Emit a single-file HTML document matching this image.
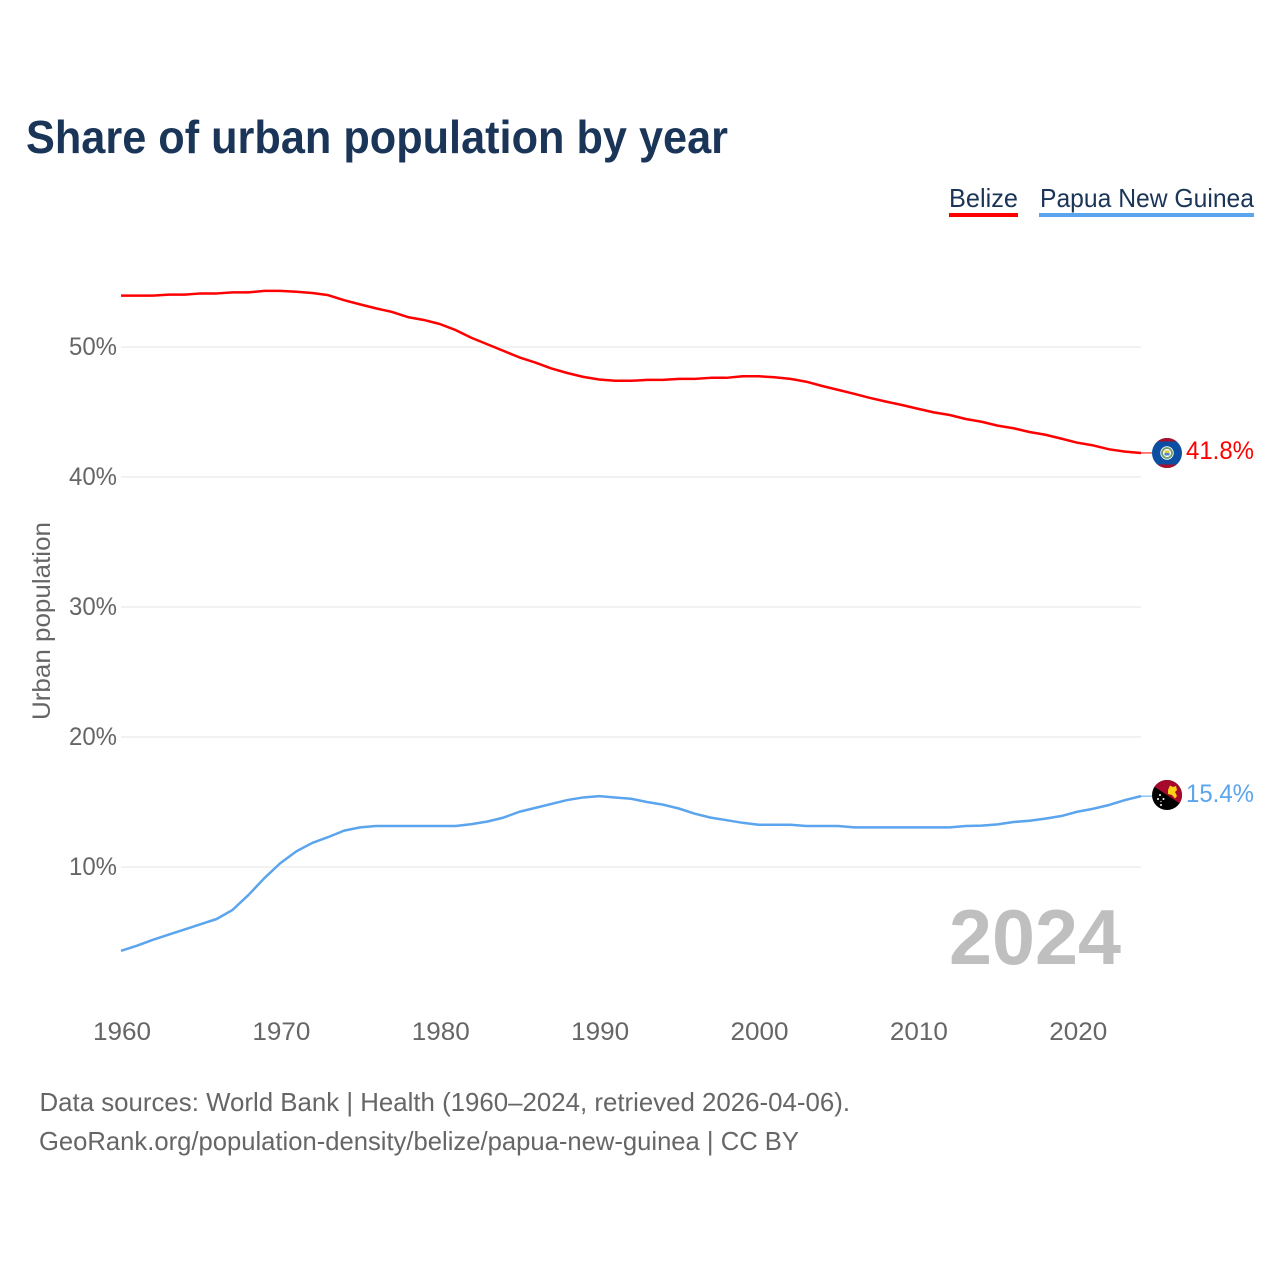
<!DOCTYPE html>
<html lang="en">
<head>
<meta charset="utf-8">
<title>Share of urban population by year</title>
<style>
html,body{margin:0;padding:0;background:#fff;width:1280px;height:1280px;overflow:hidden}
svg{display:block}
text{font-family:"Liberation Sans",sans-serif}
</style>
</head>
<body>
<svg id="chart" xmlns="http://www.w3.org/2000/svg" width="1280" height="1280" viewBox="0 0 1280 1280">
  <defs>
    <clipPath id="flag-clip-belize"><circle cx="1167" cy="453" r="15"/></clipPath>
    <clipPath id="flag-clip-png"><circle cx="1167" cy="795" r="15"/></clipPath>
  </defs>
  <rect width="1280" height="1280" fill="#ffffff"/>
  <text x="26" y="153" font-size="46" font-weight="700" fill="#1a3557" textLength="702" lengthAdjust="spacingAndGlyphs">Share of urban population by year</text>

  <g>
    <text x="949" y="207" font-size="26" fill="#1a3557" textLength="69" lengthAdjust="spacingAndGlyphs">Belize</text>
    <rect x="949" y="213" width="69" height="4" fill="#ff0000"/>
  </g>
  <g>
    <text x="1040" y="207" font-size="26" fill="#1a3557" textLength="214" lengthAdjust="spacingAndGlyphs">Papua New Guinea</text>
    <rect x="1039" y="213" width="215" height="4" fill="#5ba4ee"/>
  </g>

  <g id="grid"></g>
  <g id="yticks"></g>
  <g id="xticks"></g>
  <text transform="translate(50,720) rotate(-90)" font-size="25" fill="#666666" textLength="198" lengthAdjust="spacingAndGlyphs">Urban population</text>

  <text x="949" y="964" font-size="78" font-weight="700" fill="#bfbfbf" textLength="172" lengthAdjust="spacingAndGlyphs">2024</text>

  <g id="series"></g>

  <g>
    <g clip-path="url(#flag-clip-belize)">
      <rect x="1152" y="438" width="30" height="30" fill="#0b4ea2"/>
      <rect x="1152" y="438" width="30" height="3.5" fill="#a81030"/>
      <rect x="1152" y="464.5" width="30" height="3.5" fill="#a81030"/>
    </g>
    <circle cx="1167" cy="453" r="6.7" fill="#ffffff"/>
    <circle cx="1167" cy="453" r="5" fill="none" stroke="#6d9b6a" stroke-width="1.8"/>
    <rect x="1164.5" y="450.5" width="5" height="2.5" fill="#e6c93c"/>
    <rect x="1164.5" y="453" width="5" height="2.5" fill="#4d86c6"/>
  </g>
  <g>
    <g clip-path="url(#flag-clip-png)">
      <rect x="1150" y="778" width="34" height="34" fill="#000000"/>
      <polygon points="1150,778 1184,778 1184,806.2 1150,783.8" fill="#a50a2c"/>
      <polygon points="1168,790 1170,785.5 1173,787 1176,786 1177,790 1175,792 1177,796 1175,798.5 1172,795 1168,794" fill="#fcd116"/>
      <circle cx="1160" cy="795" r="1" fill="#ffffff"/>
      <circle cx="1158" cy="799" r="1" fill="#ffffff"/>
      <circle cx="1163.5" cy="799" r="1" fill="#ffffff"/>
      <circle cx="1161" cy="805" r="1" fill="#ffffff"/>
      <circle cx="1161" cy="801.5" r="0.6" fill="#ffffff"/>
    </g>
  </g>

  <text x="1186" y="459" font-size="25" fill="#ff0000" textLength="68" lengthAdjust="spacingAndGlyphs">41.8%</text>
  <text x="1186" y="802" font-size="25" fill="#5ba4ee" textLength="68" lengthAdjust="spacingAndGlyphs">15.4%</text>

  <text x="39.5" y="1111" font-size="26" fill="#666666" textLength="810.5" lengthAdjust="spacingAndGlyphs">Data sources: World Bank | Health (1960–2024, retrieved 2026-04-06).</text>
  <text x="39" y="1150" font-size="26" fill="#666666" textLength="760" lengthAdjust="spacingAndGlyphs">GeoRank.org/population-density/belize/papua-new-guinea | CC BY</text>
</svg>
<script>
const years = [1960,1961,1962,1963,1964,1965,1966,1967,1968,1969,1970,1971,1972,1973,1974,1975,1976,1977,1978,1979,1980,1981,1982,1983,1984,1985,1986,1987,1988,1989,1990,1991,1992,1993,1994,1995,1996,1997,1998,1999,2000,2001,2002,2003,2004,2005,2006,2007,2008,2009,2010,2011,2012,2013,2014,2015,2016,2017,2018,2019,2020,2021,2022,2023,2024];
const belizeValues = [53.95,53.95,53.95,54.03,54.03,54.12,54.12,54.2,54.2,54.32,54.32,54.25,54.15,53.99,53.6,53.28,52.97,52.7,52.3,52.08,51.77,51.3,50.7,50.2,49.7,49.2,48.8,48.35,48.0,47.7,47.5,47.4,47.4,47.47,47.47,47.55,47.55,47.63,47.63,47.75,47.75,47.67,47.55,47.33,47.0,46.7,46.4,46.08,45.8,45.54,45.25,44.97,44.77,44.46,44.25,43.95,43.75,43.46,43.25,42.95,42.64,42.43,42.13,41.95,41.85];
const pngValues = [3.55,3.95,4.4,4.8,5.2,5.6,6.0,6.7,7.85,9.15,10.3,11.2,11.85,12.3,12.8,13.05,13.15,13.15,13.15,13.15,13.15,13.15,13.3,13.5,13.8,14.25,14.55,14.85,15.15,15.35,15.45,15.35,15.25,15.0,14.8,14.5,14.1,13.8,13.6,13.4,13.25,13.25,13.25,13.15,13.15,13.15,13.05,13.05,13.05,13.05,13.05,13.05,13.05,13.15,13.18,13.28,13.46,13.56,13.72,13.92,14.25,14.48,14.77,15.15,15.45];
const yTickValues = [10,20,30,40,50];
const xTickValues = [1960,1970,1980,1990,2000,2010,2020];

const SVGNS = 'http://www.w3.org/2000/svg';
function xScale(year){ return 121 + (year - 1960) * (1020 / 64); }
function yScale(v){ return 997 - v * 13; }

const grid = document.getElementById('grid');
const yticks = document.getElementById('yticks');
yTickValues.forEach(function(v){
  const l = document.createElementNS(SVGNS,'line');
  
  
  l.setAttribute('x1', xScale(1960));
  l.setAttribute('x2', xScale(2024));
  l.setAttribute('y1', yScale(v));
  l.setAttribute('y2', yScale(v));
  l.setAttribute('stroke', '#eeeeee');
  l.setAttribute('stroke-width', '1.5');
  grid.appendChild(l);
  const t = document.createElementNS(SVGNS,'text');
  
  
  t.setAttribute('x', 69);
  t.setAttribute('y', yScale(v) + 8);
  t.setAttribute('font-size', '25');
  t.setAttribute('fill', '#666666');
  t.setAttribute('textLength', '48');
  t.setAttribute('lengthAdjust', 'spacingAndGlyphs');
  t.textContent = v + '%';
  yticks.appendChild(t);
});

const xticks = document.getElementById('xticks');
xTickValues.forEach(function(y){
  const t = document.createElementNS(SVGNS,'text');
  
  
  t.setAttribute('x', xScale(y) + 1 - 29);
  t.setAttribute('y', 1040);
  t.setAttribute('font-size', '25');
  t.setAttribute('fill', '#666666');
  t.setAttribute('textLength', '58');
  t.setAttribute('lengthAdjust', 'spacingAndGlyphs');
  t.textContent = y;
  xticks.appendChild(t);
});

const series = document.getElementById('series');
function drawSeries(values, color, name){
  const pts = values.map(function(v,i){ return xScale(years[i]).toFixed(2) + ',' + yScale(v).toFixed(2); }).join(' ');
  const p = document.createElementNS(SVGNS,'polyline');
  
  
  p.setAttribute('points', pts);
  p.setAttribute('fill', 'none');
  p.setAttribute('stroke', color);
  p.setAttribute('stroke-width', '2.5');
  p.setAttribute('stroke-linejoin', 'round');
  series.appendChild(p);
  const last = values[values.length - 1];
  const c = document.createElementNS(SVGNS,'line');
  
  
  c.setAttribute('x1', xScale(2024));
  c.setAttribute('x2', xScale(2024) + 12);
  c.setAttribute('y1', yScale(last));
  c.setAttribute('y2', yScale(last));
  c.setAttribute('stroke', color);
  c.setAttribute('stroke-width', '1');
  series.appendChild(c);
}
drawSeries(belizeValues, '#ff0000', 'line-belize');
drawSeries(pngValues, '#5ba4ee', 'line-papua-new-guinea');
</script>
</body>
</html>
